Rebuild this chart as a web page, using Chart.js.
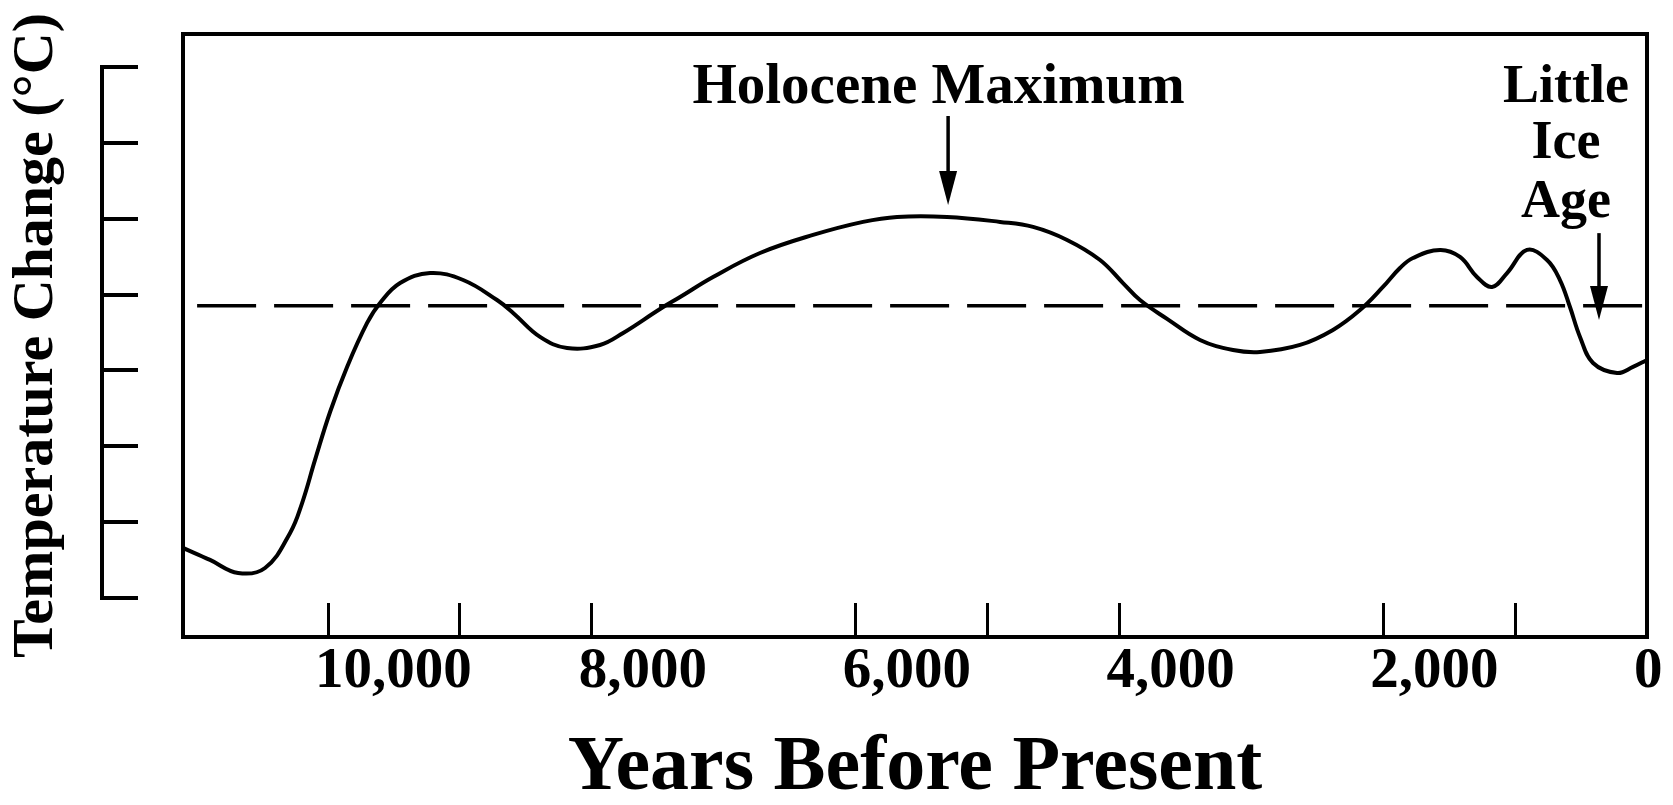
<!DOCTYPE html>
<html>
<head>
<meta charset="utf-8">
<script src="https://cdn.jsdelivr.net/npm/chart.js@4.4.1/dist/chart.umd.min.js"></script>
<style>
html,body{margin:0;padding:0;background:#fff;}
canvas{display:block;}
</style>
</head>
<body>
<canvas id="c" width="1673" height="805"></canvas>
<script>
// ---- data ----
const years = [11100, 10895, 10682, 10478, 10288, 10197, 10099, 9985, 9856, 9704, 9606, 9454, 9227, 8976, 8719, 8597, 8393, 8188, 7938, 7763, 7483, 7331, 7081, 6725, 6323, 5944, 5686, 5307, 4905, 4655, 4397, 4147, 3973, 3844, 3639, 3389, 3139, 2934, 2631, 2381, 2176, 2002, 1873, 1774, 1569, 1418, 1289, 1175, 1061, 910, 758, 660, 584, 508, 409, 227, 106, 0];
const temps = [-1.670, -1.749, -1.835, -1.802, -1.571, -1.374, -1.090, -0.774, -0.477, -0.187, -0.055, 0.076, 0.142, 0.096, -0.036, -0.121, -0.279, -0.352, -0.332, -0.253, -0.095, -0.016, 0.116, 0.274, 0.393, 0.479, 0.512, 0.512, 0.479, 0.446, 0.360, 0.228, 0.076, -0.036, -0.160, -0.299, -0.365, -0.378, -0.332, -0.233, -0.102, 0.050, 0.175, 0.241, 0.294, 0.248, 0.116, 0.050, 0.142, 0.294, 0.228, 0.096, -0.082, -0.279, -0.451, -0.517, -0.477, -0.431];
const baselineYears = [10993, 0];
const baselineValue = -0.073;

const xTickValues = [0, 1000, 2000, 4000, 5000, 6000, 8000, 9000, 10000];
const xTickLabels = ['0', '', '2,000', '4,000', '', '6,000', '8,000', '', '10,000'];
const yTickValues = [-2.0, -1.5, -1.0, -0.5, 0.0, 0.5, 1.0, 1.5];
const xMin = 0, xMax = 11100;
const yMin = -2.257, yMax = 1.7175;

// annotations, in data coordinates
const noteTexts = [
  {text: 'Holocene Maximum', year: 5371, value: 1.263, size: 57},
  {text: 'Little', year: 614, value: 1.269, size: 54},
  {text: 'Ice', year: 614, value: 0.900, size: 54},
  {text: 'Age', year: 614, value: 0.511, size: 54}
];
const noteArrows = [
  {year: 5299, from: 1.177, to: 0.591},
  {year: 364, from: 0.405, to: -0.168}
];

const FONT = '"Liberation Serif", "Times New Roman", serif';
Chart.defaults.font.family = FONT;
Chart.defaults.color = '#000';

const notesPlugin = {
  id: 'notes',
  afterDraw(chart) {
    const ctx = chart.ctx;
    const xs = chart.scales.x, ys = chart.scales.y;
    ctx.save();
    ctx.fillStyle = '#000';
    ctx.strokeStyle = '#000';
    // bracket line of the y axis
    const bx = ys.right - ys.options.grid.tickLength;
    const t0 = ys.getPixelForValue(yTickValues[yTickValues.length - 1]);
    const t1 = ys.getPixelForValue(yTickValues[0]);
    ctx.lineWidth = 4;
    ctx.beginPath();
    ctx.moveTo(bx, t0 - 2);
    ctx.lineTo(bx, t1 + 2);
    ctx.stroke();
    // texts
    ctx.textAlign = 'center';
    ctx.textBaseline = 'alphabetic';
    for (const t of noteTexts) {
      ctx.font = 'bold ' + t.size + 'px ' + FONT;
      ctx.fillText(t.text, xs.getPixelForValue(t.year), ys.getPixelForValue(t.value));
    }
    // arrows
    const headLen = 34, headHalf = 9;
    for (const a of noteArrows) {
      const px = xs.getPixelForValue(a.year);
      const p0 = ys.getPixelForValue(a.from), p1 = ys.getPixelForValue(a.to);
      ctx.lineWidth = 3.5;
      ctx.beginPath();
      ctx.moveTo(px, p0);
      ctx.lineTo(px, p1 - headLen + 2);
      ctx.stroke();
      ctx.beginPath();
      ctx.moveTo(px - headHalf, p1 - headLen);
      ctx.lineTo(px + headHalf, p1 - headLen);
      ctx.lineTo(px, p1);
      ctx.closePath();
      ctx.fill();
    }
    ctx.restore();
  }
};

new Chart(document.getElementById('c'), {
  type: 'line',
  data: {
    datasets: [
      {
        label: 'Temperature change',
        data: years.map((yr, i) => ({x: yr, y: temps[i]})),
        xAxisID: 'x', yAxisID: 'y',
        borderColor: '#000', borderWidth: 4, pointRadius: 0,
        tension: 0.4, fill: false
      },
      {
        label: 'Reference level',
        data: baselineYears.map(yr => ({x: yr, y: baselineValue})),
        xAxisID: 'x', yAxisID: 'y',
        borderColor: '#000', borderWidth: 3.5, borderDash: [59, 18],
        pointRadius: 0, fill: false
      }
    ]
  },
  options: {
    responsive: false,
    animation: false,
    devicePixelRatio: 1,
    layout: {padding: {top: 34, right: 26, bottom: 0, left: 0}},
    plugins: {legend: {display: false}, tooltip: {enabled: false}},
    scales: {
      x: {
        type: 'linear', position: 'bottom', reverse: true, min: xMin, max: xMax,
        afterBuildTicks: s => { s.ticks = xTickValues.map(v => ({value: v})); },
        afterFit: s => { s.height = 168; },
        grid: {display: true, drawOnChartArea: false, drawTicks: true, tickLength: -34, color: '#000', lineWidth: 3},
        border: {display: true, color: '#000', width: 4},
        ticks: {
          autoSkip: false, maxRotation: 0, minRotation: 0, align: 'start', labelOffset: -13, padding: 41,
          color: '#000', font: {size: 57, weight: 'bold', lineHeight: 1},
          callback: v => xTickLabels[xTickValues.indexOf(v)] || ''
        },
        title: {display: true, text: 'Years Before Present', color: '#000',
                font: {size: 78, weight: 'bold', lineHeight: 0.9}, padding: {top: 0, bottom: 1}}
      },
      y: {
        type: 'linear', position: 'left', weight: 1, min: yMin, max: yMax,
        afterBuildTicks: s => { s.ticks = yTickValues.map(v => ({value: v})); },
        afterFit: s => { s.width = 138; },
        grid: {display: true, drawOnChartArea: false, drawTicks: true, tickLength: 36, color: '#000', lineWidth: 4},
        border: {display: false},
        ticks: {display: false},
        title: {display: true, text: 'Temperature Change (°C)', color: '#000',
                font: {size: 58, weight: 'bold', lineHeight: 1}, padding: {top: 8, bottom: 0}}
      },
      yGap: {
        type: 'linear', axis: 'y', position: 'left', weight: 0,
        afterFit: s => { s.width = 45; },
        grid: {display: false}, ticks: {display: false},
        border: {display: true, color: '#000', width: 4}
      },
      yRight: {
        type: 'linear', axis: 'y', position: 'right',
        afterFit: s => { s.width = 0; },
        grid: {display: false}, ticks: {display: false},
        border: {display: true, color: '#000', width: 4}
      },
      xTop: {
        type: 'linear', axis: 'x', position: 'top',
        afterFit: s => { s.height = 0; },
        grid: {display: false}, ticks: {display: false},
        border: {display: true, color: '#000', width: 4}
      }
    }
  },
  plugins: [notesPlugin]
});
</script>
</body>
</html>
